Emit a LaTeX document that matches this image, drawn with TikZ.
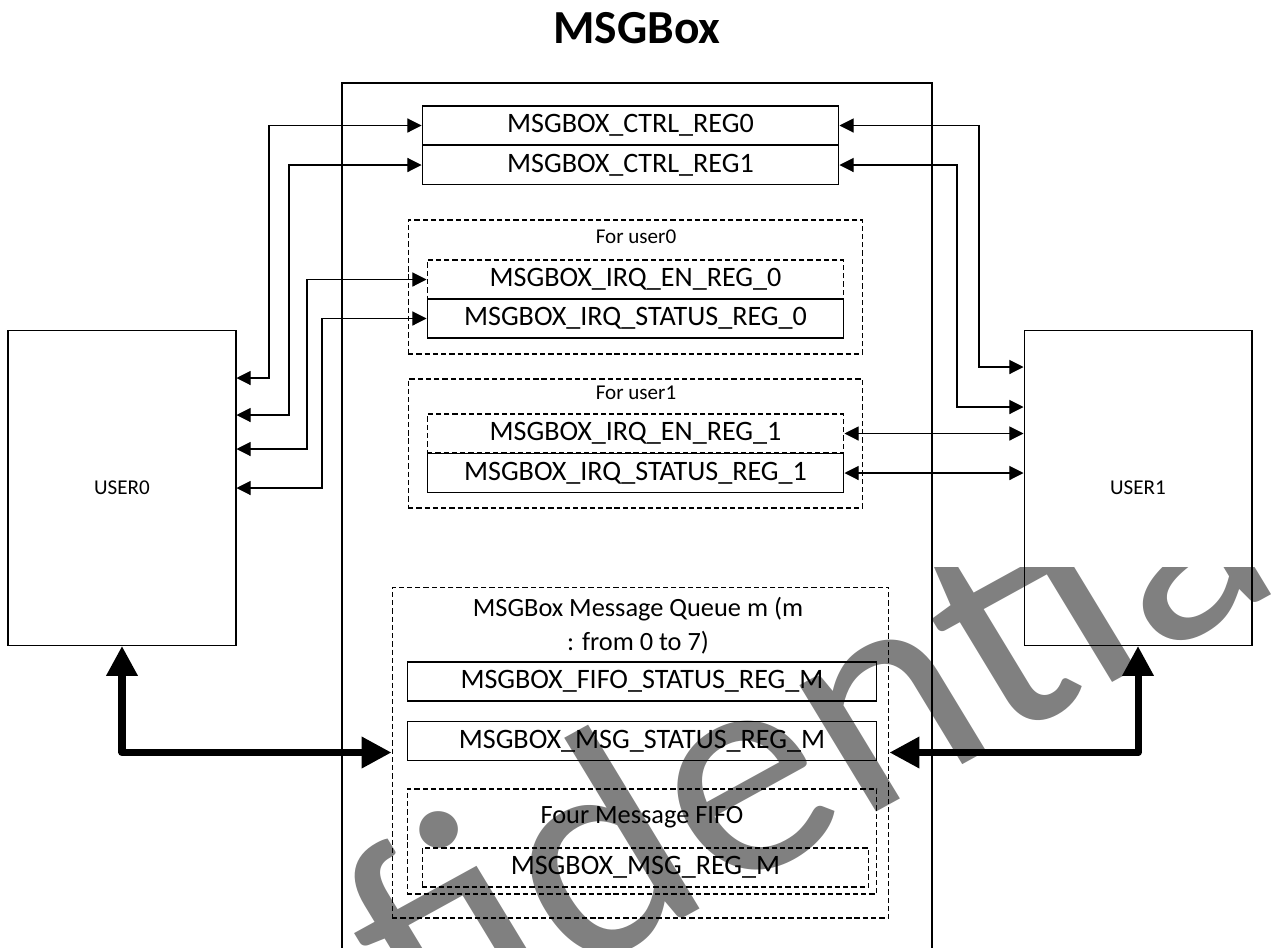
\documentclass[tikz,border=0pt]{standalone}
\usepackage{fontspec}
\setmainfont{Carlito}
\usetikzlibrary{arrows.meta}

\tikzset{
  reg/.style={draw, line width=0.6pt, inner sep=0pt, minimum width=8.34cm, minimum height=0.78cm, font=\fontsize{16}{19}\selectfont},
  wreg/.style={reg, minimum width=9.4cm},
  grp/.style={draw, line width=0.6pt, dash pattern=on 3pt off 1.7pt, inner sep=0pt},
  grplabel/.style={inner sep=0pt, font=\fontsize{12}{14}\selectfont},
  user/.style={draw, line width=0.6pt, minimum width=4.56cm, minimum height=6.3cm, font=\fontsize{12}{14}\selectfont},
  link/.style={<->, >={Triangle[length=8pt,width=8pt]}, line width=0.6pt},
  bus/.style={<->, >={Triangle[length=17pt,width=17pt]}, line width=4pt, line join=round},
  wmark/.style={text=gray, xscale=1.05, rotate=30, anchor=base west, inner sep=0pt, font=\fontsize{174}{174}\selectfont},
}

\begin{document}
\begin{tikzpicture}[x=0.02cm,y=-0.02cm]
  \useasboundingbox (0,0) rectangle (1271,947);

  % watermark
  \begin{scope}
    \clip (0,567) rectangle (1271,947);
    \node[wmark] (stamp) at (-13,1301) {Confidential};
  \end{scope}

  \node[anchor=base, inner sep=0pt, font=\fontsize{27}{32}\selectfont\bfseries] (title) at (637,43) {MSGBox};
  \draw[line width=0.6pt] (342,83) rectangle (932,1000);

  % users
  \node[user] (user0) at (122,488) {USER0};
  \node[user] (user1) at (1138,488) {USER1};

  % control registers
  \node[reg] (ctrl0) at (630.5,125.5) {MSGBOX\_CTRL\_REG0};
  \node[reg] (ctrl1) at (630.5,165) {MSGBOX\_CTRL\_REG1};

  % irq registers
  \node[grp, minimum width=9.1cm, minimum height=2.68cm] (grp0) at (635.5,287) {};
  \node[grplabel] (lab0) at (636,237) {For user0};
  \node[reg, dash pattern=on 3pt off 1.7pt] (en0) at (635.5,279.5) {MSGBOX\_IRQ\_EN\_REG\_0};
  \node[reg] (st0) at (635.5,318.5) {MSGBOX\_IRQ\_STATUS\_REG\_0};

  \node[grp, minimum width=9.1cm, minimum height=2.58cm] (grp1) at (635.5,443.5) {};
  \node[grplabel] (lab1) at (636,393) {For user1};
  \node[reg, dash pattern=on 3pt off 1.7pt] (en1) at (635.5,433.5) {MSGBOX\_IRQ\_EN\_REG\_1};
  \node[reg] (st1) at (635.5,473) {MSGBOX\_IRQ\_STATUS\_REG\_1};

  % message queue
  \node[grp, minimum width=9.94cm, minimum height=6.62cm] (queue) at (640.5,752.5) {};
  \node[align=center, inner sep=0pt, font=\fontsize{15}{19.5}\selectfont] (qlab) at (638,626) {MSGBox Message Queue m (m\\: from 0 to 7)};
  \node[wreg] (fifost) at (642,681.5) {MSGBOX\_FIFO\_STATUS\_REG\_M};
  \node[wreg] (msgst) at (642,741) {MSGBOX\_MSG\_STATUS\_REG\_M};
  \node[grp, minimum width=9.4cm, minimum height=2.1cm] (fifo) at (642,841.5) {};
  \node[inner sep=0pt, font=\fontsize{15}{18}\selectfont] (flab) at (642,817) {Four Message FIFO};
  \node[reg, minimum width=8.94cm, dash pattern=on 3pt off 1.7pt] (msgreg) at (645.5,867.5) {MSGBOX\_MSG\_REG\_M};

  % user0 side
  \draw[link] (ctrl0.west) -| (269,378) -- (user0.east |- 269,378);
  \draw[link] (ctrl1.west) -| (289,415) -- (user0.east |- 289,415);
  \draw[link] (en0.west) -| (307,449) -- (user0.east |- 307,449);
  \draw[link] (st0.west) -| (322,488) -- (user0.east |- 322,488);

  % user1 side
  \draw[link] (ctrl0.east) -| (979,367) -- (user1.west |- 979,367);
  \draw[link] (ctrl1.east) -| (957,407) -- (user1.west |- 957,407);
  \draw[link] (en1.east) -- (user1.west |- en1.east);
  \draw[link] (st1.east) -- (user1.west |- st1.east);

  % queue access
  \draw[bus] (user0.south) |- (queue.west);
  \draw[bus] (user1.south) |- (queue.east);
\end{tikzpicture}
\end{document}
